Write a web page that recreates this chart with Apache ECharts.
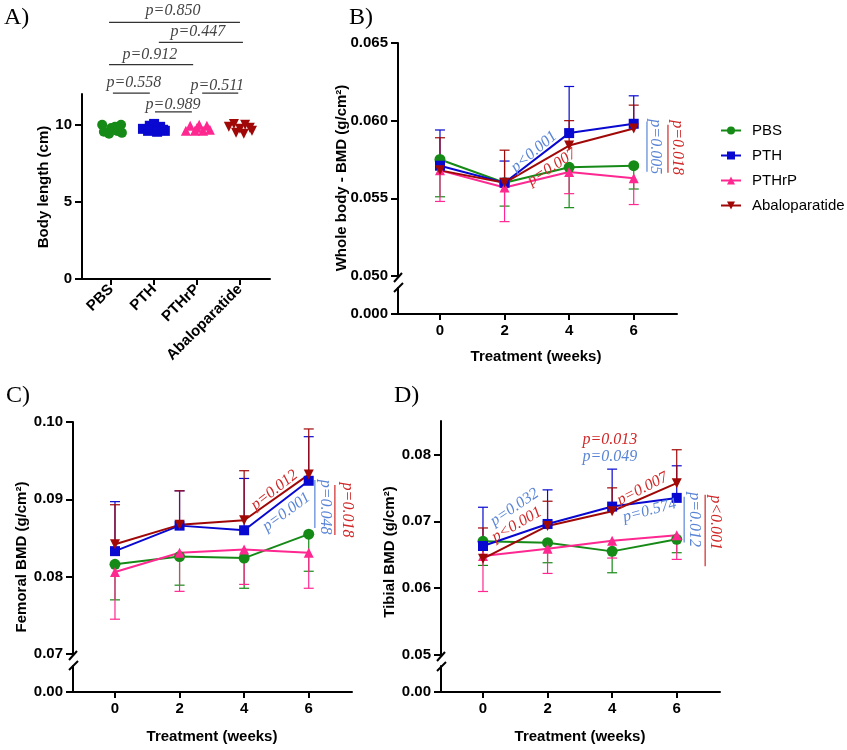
<!DOCTYPE html>
<html><head><meta charset="utf-8">
<script src="https://cdn.jsdelivr.net/npm/echarts@6/dist/echarts.min.js"></script>
<style>html,body{margin:0;padding:0;background:#fff}#c{width:847px;height:750px}</style>
</head><body><div id="c"></div>
<script>
// ---------------- DATA ----------------
const groups = ['PBS', 'PTH', 'PTHrP', 'Abaloparatide'];
const weeks = [0, 2, 4, 6];

// Panel A: body length (cm) of individual animals; jitter = horizontal offset within group
const lenPBS = [10.0, 9.55, 9.8, 9.6, 10.0, 9.48, 9.42, 9.87];
const jitPBS = [-0.21, -0.17, 0.0, 0.14, 0.23, 0.25, -0.05, 0.09];
const lenPTH = [9.74, 9.94, 10.06, 9.87, 9.61, 9.61, 9.55, 9.68];
const jitPTH = [-0.26, -0.1, 0.0, 0.14, 0.25, -0.14, 0.07, 0.21];
const lenPTHrP = [9.61, 9.94, 9.61, 10.0, 9.61, 9.94, 9.68, 9.81];
const jitPTHrP = [-0.26, -0.16, -0.05, 0.05, 0.14, 0.23, 0.3, 0.0];
const lenAbalo = [9.87, 10.06, 9.74, 10.0, 9.81, 9.48, 9.42, 9.61];
const jitAbalo = [-0.26, -0.14, 0.0, 0.12, 0.23, -0.09, 0.09, 0.28];
const bracketText = ['p=0.850', 'p=0.447', 'p=0.912', 'p=0.558', 'p=0.989', 'p=0.511'];
const bracketFrom = [-0.05, 1.11, -0.05, 0.04, 1.02, 2.12];
const bracketTo = [3.0, 3.07, 1.91, 0.90, 1.88, 2.96];

// Panel B: whole body BMD (g/cm2), mean and SD
const wbPBS = [0.0575, 0.0560, 0.0570, 0.0571];
const wbPBSsd = [0.0024, 0.0015, 0.0026, 0.0015];
const wbPTH = [0.0571, 0.0560, 0.0592, 0.0598];
const wbPTHsd = [0.0023, 0.0014, 0.0030, 0.0018];
const wbPTHrP = [0.0568, 0.0557, 0.0567, 0.0563];
const wbPTHrPsd = [0.0020, 0.0022, 0.0014, 0.0017];
const wbAbalo = [0.0568, 0.0560, 0.0584, 0.0595];
const wbAbalosd = [0.0021, 0.0021, 0.0016, 0.0015];

// Panel C: femoral BMD
const fePBS = [0.0816, 0.0826, 0.0824, 0.0855];
const fePBSsd = [0.0046, 0.0037, 0.0039, 0.0048];
const fePTH = [0.0833, 0.0866, 0.0860, 0.0924];
const fePTHsd = [0.0064, 0.0045, 0.0067, 0.0057];
const fePTHrP = [0.0806, 0.0831, 0.0835, 0.0831];
const fePTHrPsd = [0.0061, 0.0050, 0.0045, 0.0046];
const feAbalo = [0.0842, 0.0867, 0.0873, 0.0932];
const feAbalosd = [0.0051, 0.0044, 0.0064, 0.0059];

// Panel D: tibial BMD
const tiPBS = [0.0670, 0.0668, 0.0655, 0.0673];
const tiPBSsd = [0.0036, 0.0030, 0.0032, 0.0020];
const tiPTH = [0.0663, 0.0696, 0.0722, 0.0735];
const tiPTHsd = [0.0058, 0.0051, 0.0056, 0.0048];
const tiPTHrP = [0.0648, 0.0659, 0.0671, 0.0679];
const tiPTHrPsd = [0.0053, 0.0037, 0.0026, 0.0036];
const tiAbalo = [0.0644, 0.0693, 0.0715, 0.0757];
const tiAbalosd = [0.0046, 0.0037, 0.0035, 0.0050];

// tick labels
const ticksA = [0, 5, 10];
const ticksB = [0.050, 0.055, 0.060, 0.065];
const ticksC = [0.07, 0.08, 0.09, 0.10];
const ticksD = [0.05, 0.06, 0.07, 0.08];

// ---------------- STYLE / LAYOUT ----------------
const COL = {PBS: '#168a16', PTH: '#0808d0', PTHrP: '#ff2890', Abaloparatide: '#a00808'};
const SYM = {PBS: 'circle', PTH: 'rect', PTHrP: 'triangle', Abaloparatide: 'triangle'};
const SROT = {PBS: 0, PTH: 0, PTHrP: 0, Abaloparatide: 180};
const SSIZE = {PBS: 11, PTH: 10, PTHrP: 10, Abaloparatide: 10};
const DIR = {PBS: -1, PTH: 1, PTHrP: -1, Abaloparatide: 1};
const SANS = '"Liberation Sans", Arial, sans-serif';
const SERIF = '"Liberation Serif", "Times New Roman", serif';
const PBLUE = '#5a85d6', PRED = '#d02828';
const XMIN = -1.3, XMAX = 7.34;

const chart = echarts.init(document.getElementById('c'));

const grids = [
  {left: 82, top: 94, width: 188, height: 185},   // A
  {left: 398, top: 43, width: 279, height: 233},  // B upper
  {left: 398, top: 288, width: 279, height: 26},  // B lower
  {left: 73, top: 422, width: 279, height: 232},  // C upper
  {left: 73, top: 666, width: 279, height: 26},   // C lower
  {left: 441, top: 421, width: 279, height: 234}, // D upper
  {left: 441, top: 666, width: 279, height: 26}   // D lower
];

const axLine = {show: true, onZero: false, lineStyle: {color: '#000', width: 2}};
const labStyle = {color: '#000', fontWeight: 'bold', fontSize: 15, fontFamily: SANS};

function xAx(gi, show) {
  if (!show) return {gridIndex: gi, type: 'value', min: XMIN, max: XMAX, show: false};
  return {gridIndex: gi, type: 'value', min: XMIN, max: XMAX, splitLine: {show: false},
    axisLine: axLine, axisTick: {show: true, length: 6, customValues: weeks, lineStyle: {width: 2, color: '#000'}},
    axisLabel: Object.assign({customValues: weeks, margin: 9}, labStyle)};
}
function yAx(gi, min, max, ticks, dec) {
  return {gridIndex: gi, type: 'value', min: min, max: max, splitLine: {show: false},
    axisLine: axLine, axisTick: {show: true, length: 7, customValues: ticks, lineStyle: {width: 2, color: '#000'}},
    axisLabel: Object.assign({customValues: ticks, margin: 10, formatter: v => v.toFixed(dec)}, labStyle)};
}

const xAxis = [
  {gridIndex: 0, type: 'value', min: -0.68, max: 3.7, splitLine: {show: false}, axisLine: axLine,
    axisTick: {show: true, length: 6, customValues: [0, 1, 2, 3], lineStyle: {width: 2, color: '#000'}},
    axisLabel: Object.assign({customValues: [0, 1, 2, 3], rotate: 45, margin: 8, formatter: v => groups[Math.round(v)]}, labStyle)},
  xAx(1, false), xAx(2, true), xAx(3, false), xAx(4, true), xAx(5, false), xAx(6, true)
];
const yAxis = [
  yAx(0, 0, 12, ticksA, 0),
  yAx(1, 0.050, 0.065, ticksB, 3), yAx(2, 0, 1, [0], 3),
  yAx(3, 0.07, 0.10, ticksC, 2), yAx(4, 0, 1, [0], 2),
  yAx(5, 0.05, 0.085, ticksD, 2), yAx(6, 0, 1, [0], 2)
];

const series = [];
const panels = [
  {gi: 1, vals: [wbPBS, wbPTH, wbPTHrP, wbAbalo], sds: [wbPBSsd, wbPTHsd, wbPTHrPsd, wbAbalosd], ymin: 0.050},
  {gi: 3, vals: [fePBS, fePTH, fePTHrP, feAbalo], sds: [fePBSsd, fePTHsd, fePTHrPsd, feAbalosd], ymin: 0.07},
  {gi: 5, vals: [tiPBS, tiPTH, tiPTHrP, tiAbalo], sds: [tiPBSsd, tiPTHsd, tiPTHrPsd, tiAbalosd], ymin: 0.05}
];

// line series first (legend icons come from these)
panels.forEach(p => {
  groups.forEach((g, k) => {
    series.push({type: 'line', name: g, xAxisIndex: p.gi, yAxisIndex: p.gi,
      data: weeks.map((w, i) => [w, p.vals[k][i]]),
      symbol: SYM[g], symbolSize: SSIZE[g], symbolRotate: SROT[g], showSymbol: true,
      lineStyle: {color: COL[g], width: 2}, itemStyle: {color: COL[g]}, z: 4, animation: false});
  });
});
// error bars
panels.forEach(p => {
  groups.forEach((g, k) => {
    const dir = DIR[g], col = COL[g];
    series.push({type: 'custom', name: g + ' SD', xAxisIndex: p.gi, yAxisIndex: p.gi, z: 3,
      data: weeks.map((w, i) => [w, p.vals[k][i], p.sds[k][i]]),
      encode: {x: 0, y: 1},
      renderItem: (params, api) => {
        const x = api.value(0), y = api.value(1), e = api.value(2);
        const p0 = api.coord([x, y]), p1 = api.coord([x, y + dir * e]);
        return {type: 'group', children: [
          {type: 'line', shape: {x1: p0[0], y1: p0[1], x2: p1[0], y2: p1[1]}, style: {stroke: col, lineWidth: 1.2}},
          {type: 'line', shape: {x1: p1[0] - 5, y1: p1[1], x2: p1[0] + 5, y2: p1[1]}, style: {stroke: col, lineWidth: 1.2}}
        ]};
      }});
  });
  // axis break marks
  series.push({type: 'custom', name: 'break', xAxisIndex: p.gi, yAxisIndex: p.gi, z: 5,
    data: [[XMIN, p.ymin]],
    renderItem: (params, api) => {
      const c = api.coord([api.value(0), api.value(1)]);
      return {type: 'group', children: [
        {type: 'line', shape: {x1: c[0] - 4, y1: c[1] + 6, x2: c[0] + 4, y2: c[1] - 3}, style: {stroke: '#000', lineWidth: 2}},
        {type: 'line', shape: {x1: c[0] - 4, y1: c[1] + 16, x2: c[0] + 5, y2: c[1] + 7}, style: {stroke: '#000', lineWidth: 2}}
      ]};
    }});
});

// Panel A scatter
const lens = [lenPBS, lenPTH, lenPTHrP, lenAbalo];
const jits = [jitPBS, jitPTH, jitPTHrP, jitAbalo];
groups.forEach((g, k) => {
  series.push({type: 'scatter', name: g + ' (length)', xAxisIndex: 0, yAxisIndex: 0,
    data: lens[k].map((v, i) => [k + jits[k][i], v]),
    symbol: SYM[g], symbolSize: 10, symbolRotate: SROT[g], itemStyle: {color: COL[g], opacity: 1}, z: 3});
});

// Panel A comparison brackets
const bracketLevel = [16.64, 15.35, 13.9, 12.06, 10.84, 12.06];
const bracketTextPos = [[1.44, 17.40], [2.02, 16.06], [0.90, 14.55], [0.53, 12.75], [1.44, 11.30], [2.47, 12.50]];
series.push({type: 'custom', name: 'brackets', xAxisIndex: 0, yAxisIndex: 0, z: 5, clip: false,
  data: bracketText.map((t, i) => [bracketFrom[i], bracketLevel[i]]),
  renderItem: (params, api) => {
    const i = params.dataIndex;
    const a = api.coord([bracketFrom[i], bracketLevel[i]]);
    const b = api.coord([bracketTo[i], bracketLevel[i]]);
    const t = api.coord(bracketTextPos[i]);
    return {type: 'group', children: [
      {type: 'line', shape: {x1: a[0], y1: a[1], x2: b[0], y2: b[1]}, style: {stroke: '#333', lineWidth: 1.2}},
      {type: 'text', x: t[0], y: t[1], style: {text: bracketText[i], fill: '#444', font: 'italic 16px ' + SERIF, align: 'center', verticalAlign: 'middle'}}
    ]};
  }});

// p-value annotations on B, C, D: [x, y, text, color, angleDeg]
const notesB = [[2.91, 0.0580, 'p<0.001', PBLUE, 40], [3.47, 0.0570, 'p=0.007', PRED, 33],
  [6.66, 0.05832, 'p=0.005', PBLUE, -90], [7.34, 0.05826, 'p=0.018', PRED, -90]];
const barsB = [[6.41, 0.05994, 0.05671, PBLUE], [7.06, 0.05974, 0.05665, PRED]];
const notesC = [[4.94, 0.0912, 'p=0.012', PRED, 38], [5.31, 0.08836, 'p=0.001', PBLUE, 36],
  [6.50, 0.0890, 'p=0.048', PBLUE, -90], [7.18, 0.08862, 'p=0.018', PRED, -90]];
const barsC = [[6.19, 0.09249, 0.0863, PBLUE], [6.81, 0.09185, 0.08539, PRED]];
const notesD = [[0.98, 0.0721, 'p=0.032', PBLUE, 34], [1.05, 0.0695, 'p<0.001', PRED, 30],
  [4.94, 0.07486, 'p=0.007', PRED, 27], [5.16, 0.07159, 'p=0.574', PBLUE, 15],
  [3.93, 0.08221, 'p=0.013', PRED, 0], [3.93, 0.07966, 'p=0.049', PBLUE, 0],
  [6.54, 0.07025, 'p=0.012', PBLUE, -90], [7.19, 0.0698, 'p<0.001', PRED, -90]];
const barsD = [[6.23, 0.07367, 0.06684, PBLUE], [6.88, 0.07397, 0.06327, PRED]];

function noteSeries(gi, notes, bars) {
  series.push({type: 'custom', name: 'notes', xAxisIndex: gi, yAxisIndex: gi, z: 6, clip: false,
    data: notes.map(n => [n[0], n[1]]),
    renderItem: (params, api) => {
      const n = notes[params.dataIndex];
      const c = api.coord([n[0], n[1]]);
      return {type: 'text', x: c[0], y: c[1], rotation: n[4] * Math.PI / 180,
        style: {text: n[2], fill: n[3], font: 'italic 16px ' + SERIF, align: 'center', verticalAlign: 'middle'}};
    }});
  series.push({type: 'custom', name: 'bars', xAxisIndex: gi, yAxisIndex: gi, z: 6, clip: false,
    data: bars.map(b => [b[0], b[1]]),
    renderItem: (params, api) => {
      const b = bars[params.dataIndex];
      const p1 = api.coord([b[0], b[1]]), p2 = api.coord([b[0], b[2]]);
      return {type: 'line', shape: {x1: p1[0], y1: p1[1], x2: p2[0], y2: p2[1]}, style: {stroke: b[3], lineWidth: 1.2}};
    }});
}
noteSeries(1, notesB, barsB);
noteSeries(3, notesC, barsC);
noteSeries(5, notesD, barsD);

const titleFont = 'bold 15px ' + SANS;
const graphic = [
  {type: 'text', left: 4, top: 6, style: {text: 'A)', font: '24px ' + SERIF, fill: '#000'}},
  {type: 'text', left: 349, top: 6, style: {text: 'B)', font: '24px ' + SERIF, fill: '#000'}},
  {type: 'text', left: 6, top: 384, style: {text: 'C)', font: '24px ' + SERIF, fill: '#000'}},
  {type: 'text', left: 394, top: 384, style: {text: 'D)', font: '24px ' + SERIF, fill: '#000'}},
  {type: 'text', x: 43.5, y: 187, rotation: Math.PI / 2, style: {text: 'Body length (cm)', font: titleFont, fill: '#000', align: 'center', verticalAlign: 'middle'}},
  {type: 'text', x: 342, y: 178, rotation: Math.PI / 2, style: {text: 'Whole body - BMD (g/cm²)', font: titleFont, fill: '#000', align: 'center', verticalAlign: 'middle'}},
  {type: 'text', x: 21.5, y: 557, rotation: Math.PI / 2, style: {text: 'Femoral BMD (g/cm²)', font: titleFont, fill: '#000', align: 'center', verticalAlign: 'middle'}},
  {type: 'text', x: 390, y: 552, rotation: Math.PI / 2, style: {text: 'Tibial BMD (g/cm²)', font: titleFont, fill: '#000', align: 'center', verticalAlign: 'middle'}},
  {type: 'text', x: 536, y: 357, style: {text: 'Treatment (weeks)', font: titleFont, fill: '#000', align: 'center', verticalAlign: 'middle'}},
  {type: 'text', x: 212, y: 737, style: {text: 'Treatment (weeks)', font: titleFont, fill: '#000', align: 'center', verticalAlign: 'middle'}},
  {type: 'text', x: 580, y: 737, style: {text: 'Treatment (weeks)', font: titleFont, fill: '#000', align: 'center', verticalAlign: 'middle'}}
];

chart.setOption({
  animation: false,
  backgroundColor: '#fff',
  grid: grids,
  xAxis: xAxis,
  yAxis: yAxis,
  legend: {left: 720, top: 123, padding: 0, orient: 'vertical', data: groups, selectedMode: false,
    itemWidth: 20, itemHeight: 10, itemGap: 10,
    textStyle: {fontSize: 15, fontFamily: SANS, color: '#000', padding: [0, 0, 0, 6]}},
  graphic: graphic,
  series: series
});
</script></body></html>
